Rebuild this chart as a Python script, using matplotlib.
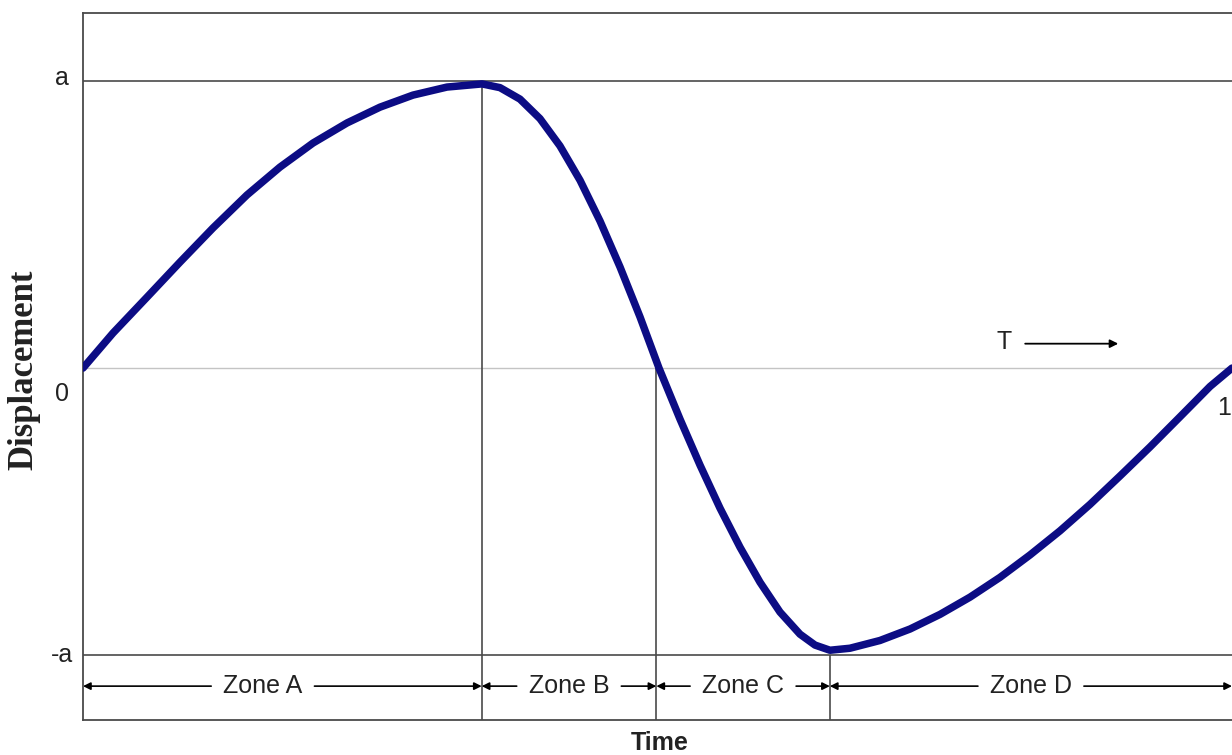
"""
Displacement over one period T, split into the four motion zones A-D.
Curve points read off the reference figure (time as fraction of T,
displacement as fraction of amplitude a).
"""

import matplotlib.pyplot as plt

# ── Palette ───────────────────────────────────────────────────────────────
C_CURVE = '#0c0c84'
C_FRAME = '#4a4a4a'
C_ZERO  = '#c4c4c4'
C_INK   = '#222222'

plt.rcParams.update({
    'font.family':      ['Liberation Sans', 'DejaVu Sans'],
    'font.size':        18,
    'text.color':       C_INK,
    'figure.facecolor': 'white',
    'axes.facecolor':   'white',
})

# ── Data (t / T, displacement / a) ────────────────────────────────────────
t_vals = [0.0000, 0.0261, 0.0557, 0.0844, 0.1131, 0.1427, 0.1714, 0.2002,
          0.2298, 0.2585, 0.2872, 0.3168, 0.3473,
          0.3629, 0.3803, 0.3977, 0.4151, 0.4326, 0.4500, 0.4674, 0.4848,
          0.5013,
          0.5196, 0.5370, 0.5544, 0.5718, 0.5892, 0.6066, 0.6240, 0.6371,
          0.6501,
          0.6675, 0.6936, 0.7198, 0.7459, 0.7720, 0.7981, 0.8242, 0.8503,
          0.8764, 0.9025, 0.9286, 0.9547, 0.9809, 1.0000]
disp_vals = [0.000, 0.122, 0.247, 0.369, 0.488, 0.603, 0.700, 0.784,
             0.854, 0.909, 0.951, 0.979, 0.990,
             0.977, 0.937, 0.869, 0.774, 0.654, 0.512, 0.352, 0.178,
             0.000,
             -0.178, -0.338, -0.488, -0.624, -0.746, -0.850, -0.927, -0.965,
             -0.983,
             -0.976, -0.949, -0.909, -0.858, -0.798, -0.729, -0.651, -0.567,
             -0.475, -0.376, -0.275, -0.170, -0.064, 0.000]

zone_edges  = [0.0, 0.347, 0.499, 0.650, 1.0]
zone_names  = ['Zone A', 'Zone B', 'Zone C', 'Zone D']
level_vals  = [1.0, 0.0, -1.0]
level_names = ['a', '0', '-a']

# ── Figure ────────────────────────────────────────────────────────────────
W, H = 1232, 755
fig = plt.figure(figsize=(W / 100, H / 100), dpi=100)
x_over = 1.05   # frame runs past the right edge of the picture
ax = fig.add_axes([83 / W, 35 / H, (W - 83) / W * x_over, (720 - 13) / H])
ax.set_xlim(0, x_over)
ax.set_ylim(-1.226, 1.237)
ax.set_xticks([])
ax.set_yticks([])
for s in ax.spines.values():
    s.set_color(C_FRAME)
    s.set_linewidth(1.3)

# reference levels
for v in level_vals:
    ax.axhline(v, color=C_ZERO if v == 0 else C_FRAME, lw=1.0 if v == 0 else 1.2, zorder=1)

# zone boundaries, each drops from the level the curve sits at
for xb, top in zip(zone_edges[1:-1], level_vals):
    ax.vlines(xb, -1.226, top, color=C_FRAME, lw=1.2, zorder=1)

ax.plot(t_vals, disp_vals, color=C_CURVE, lw=5.4, solid_capstyle='round',
        solid_joinstyle='round', zorder=3)

# level labels on the left
lab_y = {'a': 1.01, '0': -0.09, '-a': -1.0}
for name in level_names:
    ax.text(-0.018, lab_y[name], name, ha='center', va='center', fontsize=18,
            color=C_INK, clip_on=False)
ax.text(0.987, -0.14, '1', ha='left', va='center', fontsize=18, clip_on=False)

# T -> arrow
ax.text(0.802, 0.09, 'T', ha='center', va='center', fontsize=18)
ax.annotate('', xy=(0.901, 0.085), xytext=(0.820, 0.085),
            arrowprops=dict(arrowstyle='-|>', color='black', lw=1.3,
                            mutation_scale=12, shrinkA=0, shrinkB=0))

# zone dimension arrows
y_zone = -1.108
fig.canvas.draw()
inv = ax.transData.inverted()
gap = 12  # px between text and arrow
for x0, x1, name in zip(zone_edges[:-1], zone_edges[1:], zone_names):
    xc = (x0 + x1) / 2 - (0.017 if name == 'Zone A' else 0.0)
    t = ax.text(xc, y_zone, name, ha='center', va='center', fontsize=18)
    bb = t.get_window_extent(renderer=fig.canvas.get_renderer())
    left_end = inv.transform((bb.x0 - gap, 0))[0]
    right_end = inv.transform((bb.x1 + gap, 0))[0]
    for start, end in ((left_end, x0), (right_end, x1)):
        ax.annotate('', xy=(end, y_zone), xytext=(start, y_zone),
                    arrowprops=dict(arrowstyle='-|>', color='black', lw=1.2,
                                    mutation_scale=11, shrinkA=0, shrinkB=0))

fig.text(660 / W, 1 - 743 / H, 'Time', ha='center', va='center',
         fontsize=18, fontweight='bold')
fig.text(24 / W, 1 - 370 / H, 'Displacement', rotation=90, ha='center', va='center',
         fontsize=25, fontweight='bold', family=['Liberation Serif', 'DejaVu Serif'])

fig.savefig('out.png', dpi=100)
